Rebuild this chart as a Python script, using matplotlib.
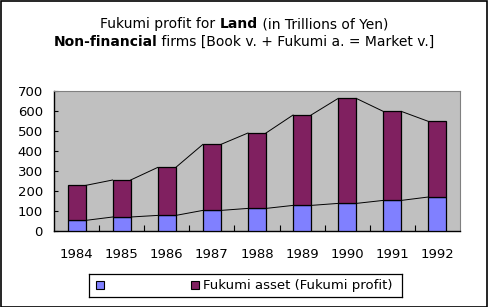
import matplotlib
matplotlib.use("Agg")
import matplotlib.pyplot as plt
import numpy as np
from matplotlib.patches import Rectangle

years = ["1984", "1985", "1986", "1987", "1988", "1989", "1990", "1991", "1992"]
book_value = [53, 70, 78, 103, 113, 128, 138, 153, 170]
market_value = [228, 255, 318, 433, 490, 580, 663, 598, 548]
fukumi_asset = [m - b for m, b in zip(market_value, book_value)]
legend_labels = ["", "Fukumi asset (Fukumi profit)"]

BLUE = "#8080FF"
MAROON = "#802060"
GRAY = "#C0C0C0"
FS = 9.5

fig = plt.figure(figsize=(4.88, 3.07), dpi=100)
fig.patch.set_facecolor("white")
W, H = 488, 307

ax = fig.add_axes([54 / W, 1 - 231 / H, (460 - 54) / W, (231 - 91) / H])
ax.set_facecolor(GRAY)
x = np.arange(len(years))
w = 0.4
ax.bar(x, book_value, width=w, color=BLUE, edgecolor="black", linewidth=0.9, zorder=3)
ax.bar(x, fukumi_asset, width=w, bottom=book_value, color=MAROON, edgecolor="black",
       linewidth=0.9, zorder=3)
for i in range(len(years) - 1):
    for s in (book_value, market_value):
        ax.plot([x[i] + w / 2, x[i + 1] - w / 2], [s[i], s[i + 1]], color="black",
                linewidth=0.7, zorder=2)

ax.set_xlim(-0.5, len(years) - 0.5)
ax.set_ylim(0, 700)
ax.set_yticks(range(0, 701, 100))
ax.set_xticks(x)
ax.set_xticklabels(years, fontsize=FS)
ax.tick_params(axis="x", length=0, pad=12)
ax.set_xticks(np.arange(0.5, len(years) - 0.5, 1), minor=True)
ax.tick_params(axis="x", which="minor", direction="in", length=4, width=0.8)
ax.tick_params(axis="y", direction="in", length=3, width=0.8, labelsize=FS, pad=8)
for side in ("top", "right"):
    ax.spines[side].set_color("#808080")
    ax.spines[side].set_linewidth(0.8)
ax.spines["left"].set_linewidth(1.0)
ax.spines["bottom"].set_linewidth(1.0)

# Title with mixed weights
fig.canvas.draw()
renderer = fig.canvas.get_renderer()

def mixed_line(parts, ycenter_px):
    texts = []
    for s, weight in parts:
        t = fig.text(0, 1 - ycenter_px / H, s, fontsize=FS + 0.5, fontweight=weight,
                     va="center", ha="left")
        texts.append(t)
    widths = [t.get_window_extent(renderer).width for t in texts]
    total = sum(widths)
    xstart = (W - total) / 2
    for t, wd in zip(texts, widths):
        t.set_x(xstart / W)
        xstart += wd

mixed_line([("Fukumi profit for ", "normal"), ("Land", "bold"),
            (" (in Trillions of Yen)", "normal")], 24)
mixed_line([("Non-financial", "bold"), (" firms [Book v. + Fukumi a. = Market v.]", "normal")], 42)

# Legend
leg_ax = fig.add_axes([89 / W, 1 - 297 / H, (402 - 89) / W, (297 - 274) / H])
leg_ax.set_xlim(89, 402)
leg_ax.set_ylim(297, 274)
leg_ax.set_xticks([])
leg_ax.set_yticks([])
for sp in leg_ax.spines.values():
    sp.set_linewidth(0.9)
leg_ax.add_patch(Rectangle((96, 281), 8, 8, facecolor=BLUE, edgecolor="black", linewidth=0.8))
leg_ax.text(108, 285.5, legend_labels[0], fontsize=FS, va="center")
leg_ax.add_patch(Rectangle((191, 281), 8, 8, facecolor=MAROON, edgecolor="black", linewidth=0.8))
leg_ax.text(203, 285.5, legend_labels[1], fontsize=FS, va="center")

# Outer border
fig.add_artist(Rectangle((0.5 / W, 0.5 / H), (W - 1.5) / W, (H - 1.5) / H,
                         transform=fig.transFigure, fill=False, edgecolor="black",
                         linewidth=1.2))

fig.savefig("out.png", dpi=100)
